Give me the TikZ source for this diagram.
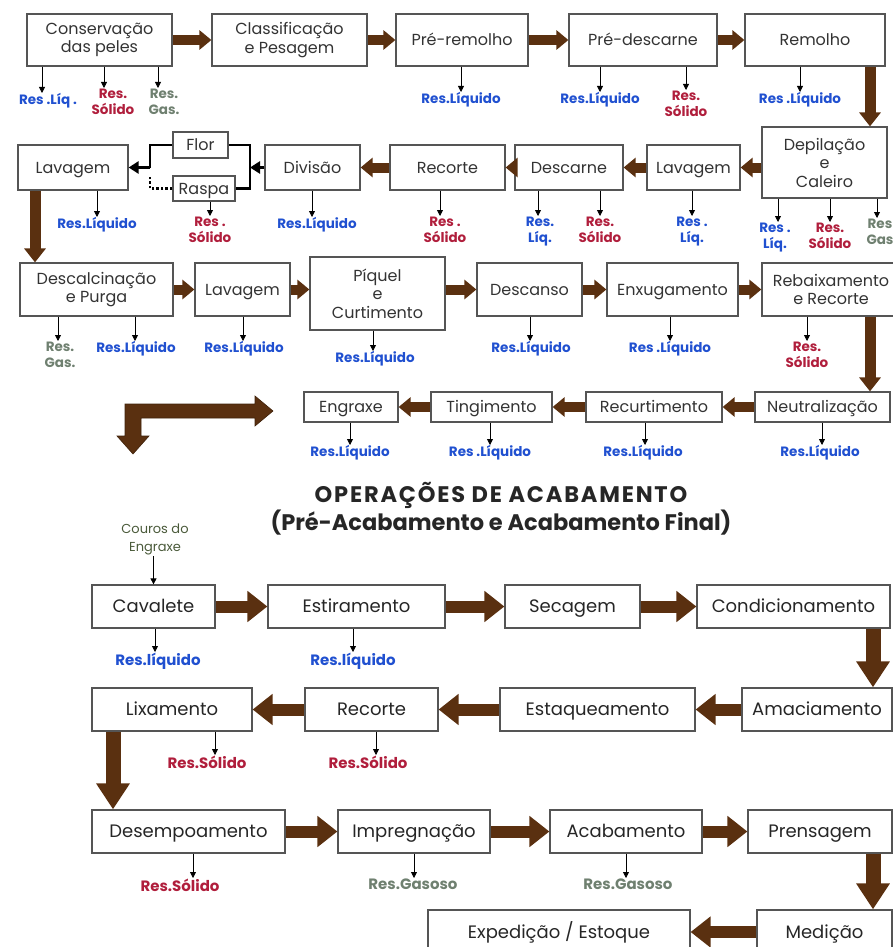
\documentclass[tikz,border=0pt]{standalone}
\usepackage{fontspec}
\setmainfont{Poppins}
\usetikzlibrary{arrows.meta}
\definecolor{bx}{HTML}{555555}
\definecolor{txt}{HTML}{333333}
\definecolor{brn}{HTML}{5A3010}
\definecolor{rblue}{HTML}{2050D0}
\definecolor{rred}{HTML}{B01E3C}
\definecolor{rgray}{HTML}{6F8070}
\definecolor{olive}{HTML}{4A5A3A}
\newcommand\resid[7]{\coordinate (#4t) at (#2,#3); \node[lbl,text=#5,anchor=north] (#4) at (#2+#7,#3) {#6}; \draw[res] (#1.south -| #4t) -- (#4t);}
\begin{document}
\begin{tikzpicture}[x=1pt,y=-1pt,
  box/.style={draw=bx, line width=1.2pt, fill=white, align=center, inner sep=1pt, text=txt, font=\fontsize{16}{18.5}\selectfont},
  boxs/.style={box, text height=12.5pt, text depth=1.5pt},
  boxl/.style={box, text height=14pt, text depth=2pt, minimum height=43pt, font=\fontsize{18}{21}\selectfont, text=black!85},
  lbl/.style={font=\bfseries\fontsize{13.5}{16.5}\selectfont, align=center, inner sep=0.5pt},
  res/.style={-{Triangle[length=6pt,width=6pt]}, line width=0.8pt},
  bra/.style={draw=brn, line width=10pt, -{Triangle[length=12pt,width=19pt]}},
  brd/.style={draw=brn, line width=11pt, -{Triangle[length=14pt,width=21pt]}},
  bral/.style={draw=brn, line width=12pt, -{Triangle[length=20pt,width=30pt]}},
  brdl/.style={draw=brn, line width=15pt, -{Triangle[length=26pt,width=32pt]}},
  blk/.style={line width=2.5pt, draw=black}
]
\path[clip] (0,0) rectangle (893,947);
% ---------- Row 1
\node[box, minimum width=145pt, minimum height=52pt] (cons) at (99.5,40) {Conservação\\das peles};
\node[box, minimum width=155pt, minimum height=52pt] (class) at (289.5,40) {Classificação\\e Pesagem};
\node[boxs, minimum width=132pt, minimum height=52pt] (prerem) at (462,40) {Pré-remolho};
\node[boxs, minimum width=148pt, minimum height=52pt] (predesc) at (643,40) {Pré-descarne};
\node[boxs, minimum width=140pt, minimum height=52pt] (remolho) at (815,40) {Remolho};
\draw[bra] (cons.east) -- (class.west);
\draw[bra] (class.east) -- (prerem.west);
\draw[bra] (prerem.east) -- (predesc.west);
\draw[bra] (predesc.east) -- (remolho.west);
% ---------- Row 2
\node[box, minimum width=125pt, minimum height=71pt] (depil) at (824.5,162.5) {Depilação\\e\\Caleiro};
\node[boxs, minimum width=93pt, minimum height=45pt] (lav2) at (693.5,167.5) {Lavagem};
\node[boxs, minimum width=108pt, minimum height=45pt] (descarne) at (569,167.5) {Descarne};
\node[boxs, minimum width=115pt, minimum height=45pt] (recorte) at (447.5,167.5) {Recorte};
\node[boxs, minimum width=95pt, minimum height=45pt] (divisao) at (312.5,167.5) {Divisão};
\node[boxs, minimum width=55pt, minimum height=26pt] (flor) at (200.5,145) {Flor};
\node[boxs, minimum width=62pt, minimum height=25pt] (raspa) at (204,188.5) {Raspa};
\node[boxs, minimum width=110pt, minimum height=45pt] (lav1) at (73,167.5) {Lavagem};
\coordinate (x870) at (870,0);
\draw[brd] (remolho.south -| x870) -- (depil.north -| x870);
\draw[bra] (depil.west |- lav2.east) -- (lav2.east);
\draw[bra] (lav2.west) -- (descarne.east);
\draw[bra] (descarne.west) -- (recorte.east);
\draw[bra] (recorte.west) -- (divisao.east);
\coordinate (barR) at (250,0);
\coordinate (barL) at (150,0);
\draw[blk] (flor.east) -- (flor.east -| barR) -- (raspa.east -| barR) -- (raspa.east);
\draw[blk, -{Triangle[length=10pt,width=12pt]}] (divisao.west) -- (divisao.west -| barR);
\draw[blk] (flor.west) -- (flor.west -| barL) -- (lav1.east -| barL);
\draw[blk, -{Triangle[length=10pt,width=12pt]}] (lav1.east -| barL) -- (lav1.east);
\draw[blk, dotted] (raspa.west) -- (raspa.west -| barL) -- ++(0,-12);
% ---------- Row 3
\node[box, minimum width=153pt, minimum height=53pt] (descal) at (96.5,289.5) {Descalcinação\\e Purga};
\node[boxs, minimum width=95pt, minimum height=53pt] (lav3) at (242.5,289.5) {Lavagem};
\node[box, minimum width=135pt, minimum height=73pt] (piquel) at (377.5,293.5) {Píquel\\e\\Curtimento};
\node[boxs, minimum width=105pt, minimum height=53pt] (descanso) at (529.5,289.5) {Descanso};
\node[boxs, minimum width=131pt, minimum height=53pt] (enxug) at (672.5,289.5) {Enxugamento};
\node[box, minimum width=138pt, minimum height=53pt] (rebaix) at (831,289.5) {Rebaixamento\\e Recorte};
\coordinate (x35) at (35,0);
\draw[brd] (lav1.south -| x35) -- (descal.north -| x35);
\draw[bra] (descal.east) -- (lav3.west);
\draw[bra] (lav3.east) -- (lav3.east -| piquel.west);
\draw[bra] (descanso.west -| piquel.east) -- (descanso.west);
\draw[bra] (descanso.east) -- (enxug.west);
\draw[bra] (enxug.east) -- (rebaix.west);
% ---------- Row 4
\node[boxs, minimum width=94pt, minimum height=30pt] (engraxe) at (351,407) {Engraxe};
\node[boxs, minimum width=121pt, minimum height=30pt] (tingi) at (491.5,407) {Tingimento};
\node[boxs, minimum width=136pt, minimum height=30pt] (recurt) at (654,407) {Recurtimento};
\node[boxs, minimum width=135pt, minimum height=30pt] (neutral) at (822.5,407) {Neutralização};
\draw[brd] (rebaix.south -| x870) -- (neutral.north -| x870);
\draw[bra] (neutral.west) -- (recurt.east);
\draw[bra] (recurt.west) -- (tingi.east);
\draw[bra] (tingi.west) -- (engraxe.east);
% L-shaped arrow
\filldraw[fill=brn, draw=brn!70!black, line width=0.6pt] (125,404) -- (255,404) -- (255,396) -- (273,411) -- (255,426) -- (255,418) -- (141,418) -- (141,436) -- (149,436) -- (133,454) -- (117,436) -- (125,436) -- cycle;
% ---------- Residues upper part
\resid{cons}{42}{93}{r1a}{rblue}{Res .Líq .}{6}
\resid{cons}{104}{88}{r1b}{rred}{Res.\\Sólido}{9}
\resid{cons}{158}{88}{r1c}{rgray}{Res.\\Gas.}{6}
\resid{prerem}{461}{92}{r2a}{rblue}{Res.Líquido}{0}
\resid{predesc}{600}{92}{r3a}{rblue}{Res.Líquido}{0}
\resid{predesc}{686}{90}{r3b}{rred}{Res.\\Sólido}{0}
\resid{remolho}{800}{92}{r4a}{rblue}{Res .Líquido}{0}
\resid{lav1}{97}{217}{r5a}{rblue}{Res.Líquido}{0}
\resid{raspa}{210}{216}{r6a}{rred}{Res .\\Sólido}{0}
\resid{divisao}{312}{217}{r7a}{rblue}{Res.Líquido}{5}
\resid{recorte}{440}{216}{r8a}{rred}{Res .\\Sólido}{5}
\resid{descarne}{538}{216}{r9a}{rblue}{Res.\\Líq.}{2}
\resid{descarne}{600}{216}{r9b}{rred}{Res.\\Sólido}{0}
\resid{lav2}{692}{216}{r10a}{rblue}{Res .\\Líq.}{0}
\resid{depil}{778}{222}{r11a}{rblue}{Res .\\Líq.}{-3}
\resid{depil}{830}{222}{r11b}{rred}{Res.\\Sólido}{0}
\resid{depil}{877}{218}{r11c}{rgray}{Res\\Gas}{3}
\resid{descal}{58}{341}{r12a}{rgray}{Res.\\Gas.}{2}
\resid{descal}{135}{341}{r12b}{rblue}{Res.Líquido}{1}
\resid{lav3}{243}{341}{r13a}{rblue}{Res.Líquido}{1}
\resid{piquel}{373}{351}{r14a}{rblue}{Res.Líquido}{2}
\resid{descanso}{530}{341}{r15a}{rblue}{Res.Líquido}{1}
\resid{enxug}{670}{341}{r16a}{rblue}{Res .Líquido}{0}
\resid{rebaix}{807}{341}{r17a}{rred}{Res.\\Sólido}{0}
\resid{engraxe}{350}{445}{r18a}{rblue}{Res.Líquido}{0}
\resid{tingi}{490}{445}{r19a}{rblue}{Res .Líquido}{0}
\resid{recurt}{645}{445}{r20a}{rblue}{Res.Líquido}{-2}
\resid{neutral}{822}{445}{r21a}{rblue}{Res.Líquido}{-2}
% ---------- Title
\node[font=\bfseries\fontsize{22.5}{26}\selectfont, text=black!85, align=center] (title) at (501,509) {\addfontfeature{LetterSpace=8}OPERAÇÕES DE ACABAMENTO\\(Pré-Acabamento e Acabamento Final)};
% ---------- Row 5
\node[boxl, minimum width=123pt] (cavalete) at (153.5,606.5) {Cavalete};
\node[boxl, minimum width=177pt] (estira) at (356.5,606.5) {Estiramento};
\node[boxl, minimum width=135pt] (secagem) at (572.5,606.5) {Secagem};
\node[boxl, minimum width=193pt] (condic) at (793.5,606.5) {Condicionamento};
\node[font=\fontsize{13}{18}\selectfont, text=olive, align=center, inner sep=1pt] (couros) at (155,539) {Couros do\\Engraxe};
\draw[res, line width=0.7pt] (couros.south -| cavalete.north) -- (cavalete.north);
\draw[bral] (cavalete.east) -- (estira.west);
\draw[bral] (estira.east) -- (secagem.west);
\draw[bral] (secagem.east) -- (condic.west);
% ---------- Row 6
\node[boxl, minimum width=160pt] (lixa) at (172,709.5) {Lixamento};
\node[boxl, minimum width=133pt] (recorte2) at (371.5,709.5) {Recorte};
\node[boxl, minimum width=195pt] (estaq) at (597.5,709.5) {Estaqueamento};
\node[boxl, minimum width=150pt] (amac) at (817,709.5) {Amaciamento};
\coordinate (x873) at (873,0);
\draw[brdl] (condic.south -| x873) -- (amac.north -| x873);
\draw[bral] (amac.west) -- (estaq.east);
\draw[bral] (estaq.west) -- (recorte2.east);
\draw[bral] (recorte2.west) -- (lixa.east);
% ---------- Row 7
\node[boxl, minimum width=193pt] (desemp) at (188.5,831.5) {Desempoamento};
\node[boxl, minimum width=152pt] (impreg) at (414,831.5) {Impregnação};
\node[boxl, minimum width=152pt] (acab) at (626,831.5) {Acabamento};
\node[boxl, minimum width=144pt] (prens) at (820,831.5) {Prensagem};
\coordinate (x113) at (113,0);
\draw[brdl] (lixa.south -| x113) -- (desemp.north -| x113);
\draw[bral] (desemp.east) -- (impreg.west);
\draw[bral] (impreg.east) -- (acab.west);
\draw[bral] (acab.east) -- (prens.west);
% ---------- Row 8
\node[boxl, minimum width=262pt, minimum height=44pt] (exped) at (559,932) {Expedição / Estoque};
\node[boxl, minimum width=135pt, minimum height=44pt] (medicao) at (824.5,932) {Medição};
\draw[brdl] (prens.south -| x873) -- (medicao.north -| x873);
\draw[bral] (medicao.west) -- (exped.east);
% ---------- Residues lower part
\resid{cavalete}{155}{652}{r22a}{rblue}{\fontsize{15}{17}\selectfont Res.líquido}{3}
\resid{estira}{353}{652}{r23a}{rblue}{\fontsize{15}{17}\selectfont Res.líquido}{0}
\resid{lixa}{215}{755}{r24a}{rred}{\fontsize{15}{17}\selectfont Res.Sólido}{-8}
\resid{recorte2}{376}{755}{r25a}{rred}{\fontsize{15}{17}\selectfont Res.Sólido}{-8}
\resid{desemp}{193}{878}{r26a}{rred}{\fontsize{15}{17}\selectfont Res.Sólido}{-13}
\resid{impreg}{414}{878}{r27a}{rgray}{\fontsize{15}{17}\selectfont Res.Gasoso}{-1}
\resid{acab}{626}{878}{r28a}{rgray}{\fontsize{15}{17}\selectfont Res.Gasoso}{2}
\end{tikzpicture}
\end{document}
